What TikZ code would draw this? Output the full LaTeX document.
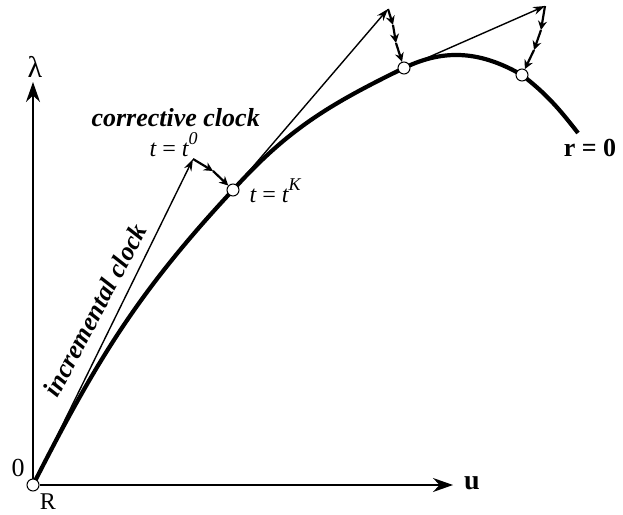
\documentclass[tikz,border=0pt]{standalone}
\usepackage{fontspec}
\setmainfont{Liberation Serif}
\usetikzlibrary{arrows.meta,backgrounds}

\begin{document}
\begin{tikzpicture}[x=1pt,y=1pt,
  pnt/.style={circle, draw, line width=1pt, fill=white, minimum size=12pt, inner sep=0pt},
  axis/.style={-{Stealth[length=20pt,width=14pt]}, line width=1.3pt},
  incr/.style={-{Stealth[length=12pt,width=8pt]}, line width=1.4pt},
  corr/.style={-{Stealth[length=9pt,width=9pt,inset=3pt]}, line width=2.2pt},
  lbl/.style={font=\fontsize{24}{28}\selectfont},
  tlbl/.style={font=\fontsize{24}{28}\selectfont\itshape, anchor=base west},
  blbl/.style={font=\fontsize{26}{30}\selectfont\bfseries\itshape},
]
\useasboundingbox (0,0) rectangle (623,514);

% points on the curve
\node[pnt] (O)  at (33,29)   {};
\node[pnt] (P1) at (233,324) {};
\node[pnt] (P2) at (404,446) {};
\node[pnt] (P3) at (522,439) {};
\coordinate (cend) at (578,381);

% axes
\coordinate (ltop) at (33,432);
\coordinate (utop) at (453,29);
\draw[axis] (O) -- (ltop);
\draw[axis] (O) -- (utop);
\node[font=\fontsize{30}{34}\selectfont] (lam) at (35,447) {λ};
\node[font=\fontsize{28}{32}\selectfont\bfseries] (u) at (472,31) {u};
\node[font=\fontsize{26}{30}\selectfont] (zero) at (18,46) {0};
\node[lbl] (R) at (48,12) {R};

% equilibrium path r = 0
\begin{scope}[on background layer]
\draw[line width=4.2pt] (O.center) to[out=63,in=227] (P1.center)
  to[out=48,in=206] (P2.center) to[out=26,in=150] (P3.center)
  to[out=-38,in=128] (cend);
\end{scope}
\node[font=\fontsize{26}{30}\selectfont\bfseries] (r0) at (590,366) {r\kern.25em=\kern.25em0};

% incremental clock
\coordinate (A0) at (193,355);
\coordinate (B0) at (388,505);
\coordinate (C0) at (545,508);
\draw[incr] (O) -- (A0);
\draw[incr] (P1) -- (B0);
\draw[incr] (P2) -- (C0);

% corrective clock
\coordinate (k11) at (213,343);
\draw[corr] (A0) -- (k11);
\draw[corr] (k11) -- (P1);
\coordinate (k21) at (393,489);
\coordinate (k22) at (396,471);
\draw[corr] (B0) -- (k21);
\draw[corr] (k21) -- (k22);
\draw[corr] (k22) -- (P2);
\coordinate (k31) at (541,484);
\coordinate (k32) at (534,464);
\draw[corr] (C0) -- (k31);
\draw[corr] (k31) -- (k32);
\draw[corr] (k32) -- (P3);

% labels
\node[blbl, anchor=base west] (cc) at (88,387) {corrective clock};
\node[blbl, rotate=62] (ic) at (95,204) {incremental clock};
\node[tlbl] (t0) at (146,357) {t\kern.2em=\kern.2em t\raisebox{.5em}{\fontsize{18}{20}\selectfont 0}};
\node[tlbl] (tK) at (246,311) {t\kern.2em=\kern.2em t\raisebox{.5em}{\fontsize{18}{20}\selectfont K}};
\end{tikzpicture}
\end{document}
